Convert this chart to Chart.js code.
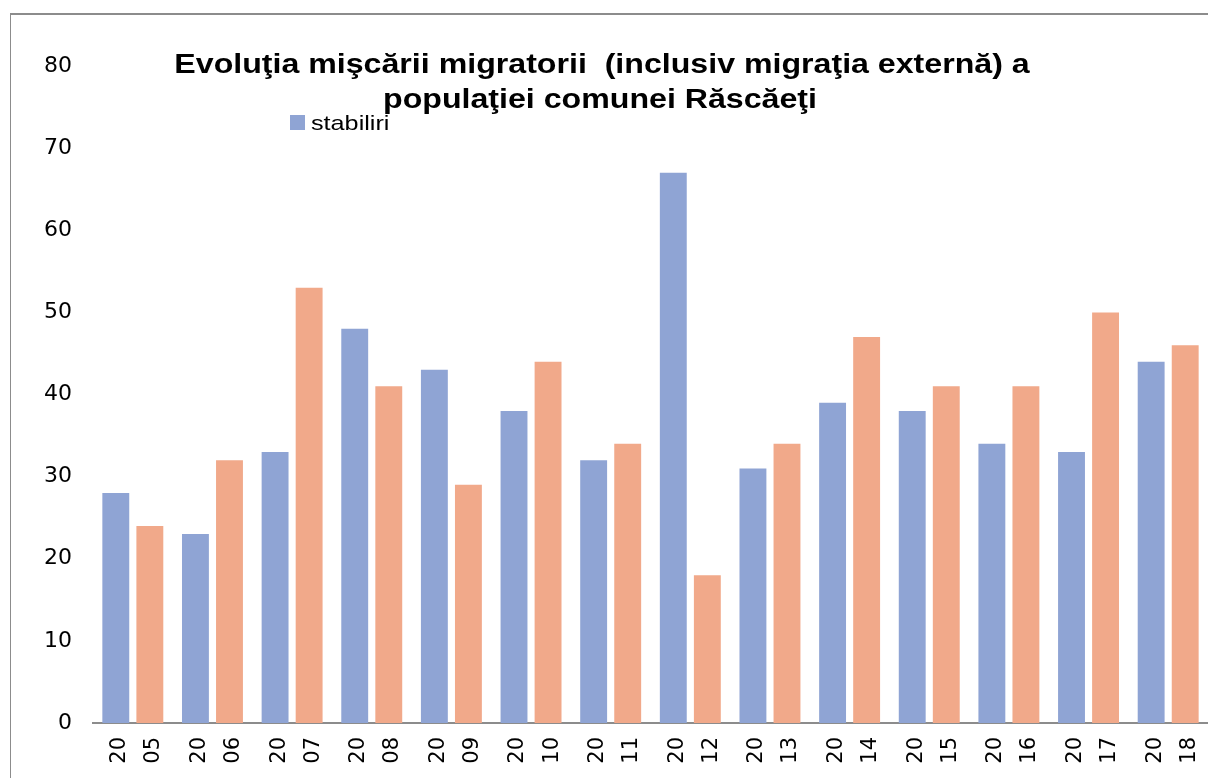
<!DOCTYPE html>
<html>
<head>
<meta charset="utf-8">
<script src="https://cdn.jsdelivr.net/npm/chart.js@4"></script>
<style>
  body { margin: 0; background: #fff; overflow: hidden; }
  #wrap { position: absolute; left: 0; top: 0; width: 1208px; height: 778px; }
  #frame { position: absolute; left: 10px; top: 13px; width: 1400px; height: 1000px;
           border-left: 1px solid #8c8c8c; border-top: 2px solid #8c8c8c; pointer-events: none; }
</style>
</head>
<body>
<div id="wrap"><canvas id="migChart" width="1208" height="778"></canvas></div>
<div id="frame"></div>
<script>
// years, split in two lines like the original (wrapped + rotated)
const years = ["2005", "2006", "2007", "2008", "2009", "2010", "2011",
               "2012", "2013", "2014", "2015", "2016", "2017", "2018"];
const stabiliri = [28, 23, 33, 48, 43, 38, 32, 67, 31, 39, 38, 34, 33, 44];
const plecari = [24, 32, 53, 41, 29, 44, 34, 18, 34, 47, 41, 41, 50, 46];
const yTicks = [0, 10, 20, 30, 40, 50, 60, 70, 80];

const titleLines = ["Evoluţia mişcării migratorii  (inclusiv migraţia externă) a",
                    "populaţiei comunei Răscăeţi"];

const labels = years.map(y => [y.slice(0, 2), y.slice(2)]);

// draw text stretched horizontally (the original picture is widened)
function wideText(ctx, text, x, y, sx) {
  ctx.save();
  ctx.translate(x, y);
  ctx.scale(sx, 1);
  ctx.fillText(text, 0, 0);
  ctx.restore();
}

// title + the single visible legend entry sit on top of the plot
const overlay = {
  id: "overlay",
  afterDraw(chart) {
    const ctx = chart.ctx;
    ctx.save();
    ctx.fillStyle = "#000";
    ctx.font = "bold 27px 'Liberation Sans', Arial, sans-serif";
    ctx.textAlign = "center";
    ctx.textBaseline = "alphabetic";
    wideText(ctx, titleLines[0], 602, 73, 1.19);
    wideText(ctx, titleLines[1], 600, 108, 1.19);

    ctx.fillStyle = "#8fa4d4";
    ctx.fillRect(290, 115, 15, 15);
    ctx.fillStyle = "#000";
    ctx.textAlign = "left";
    ctx.font = "21px 'Liberation Sans', Arial, sans-serif";
    wideText(ctx, "stabiliri", 311, 130, 1.2);
    ctx.restore();
  }
};

const chart = new Chart(document.getElementById("migChart"), {
  type: "bar",
  data: {
    labels: labels,
    datasets: [
      { label: "stabiliri", data: stabiliri, backgroundColor: "#8fa4d4" },
      { label: "plecări", data: plecari, backgroundColor: "#f1a98a" }
    ]
  },
  options: {
    responsive: false,
    animation: false,
    layout: { padding: { top: 66, left: 0, right: 0, bottom: 0 } },
    datasets: { bar: { categoryPercentage: 0.855, barPercentage: 0.79 } },
    plugins: {
      legend: { display: false },
      title: { display: false },
      tooltip: { enabled: false }
    },
    scales: {
      x: {
        grid: { display: false, drawTicks: false },
        border: { display: true, color: "#8c8c8c", width: 2 },
        ticks: {
          color: "#000",
          minRotation: 90,
          maxRotation: 90,
          padding: 14,
          labelOffset: -13,
          font: { family: "'DejaVu Sans', sans-serif", size: 21, lineHeight: 1.62 }
        },
        afterFit(scale) {
          scale.height = 55;
          scale.paddingLeft = 0;
          scale.paddingRight = 0;
        }
      },
      y: {
        min: 0,
        max: 80,
        grid: { display: false, drawTicks: false },
        border: { display: false },
        afterBuildTicks(scale) { scale.ticks = yTicks.map(v => ({ value: v })); },
        ticks: {
          color: "#000",
          padding: 21,
          font: { family: "'DejaVu Sans', sans-serif", size: 22 }
        },
        afterFit(scale) { scale.width = 93; }
      }
    }
  },
  plugins: [overlay]
});
</script>
</body>
</html>
